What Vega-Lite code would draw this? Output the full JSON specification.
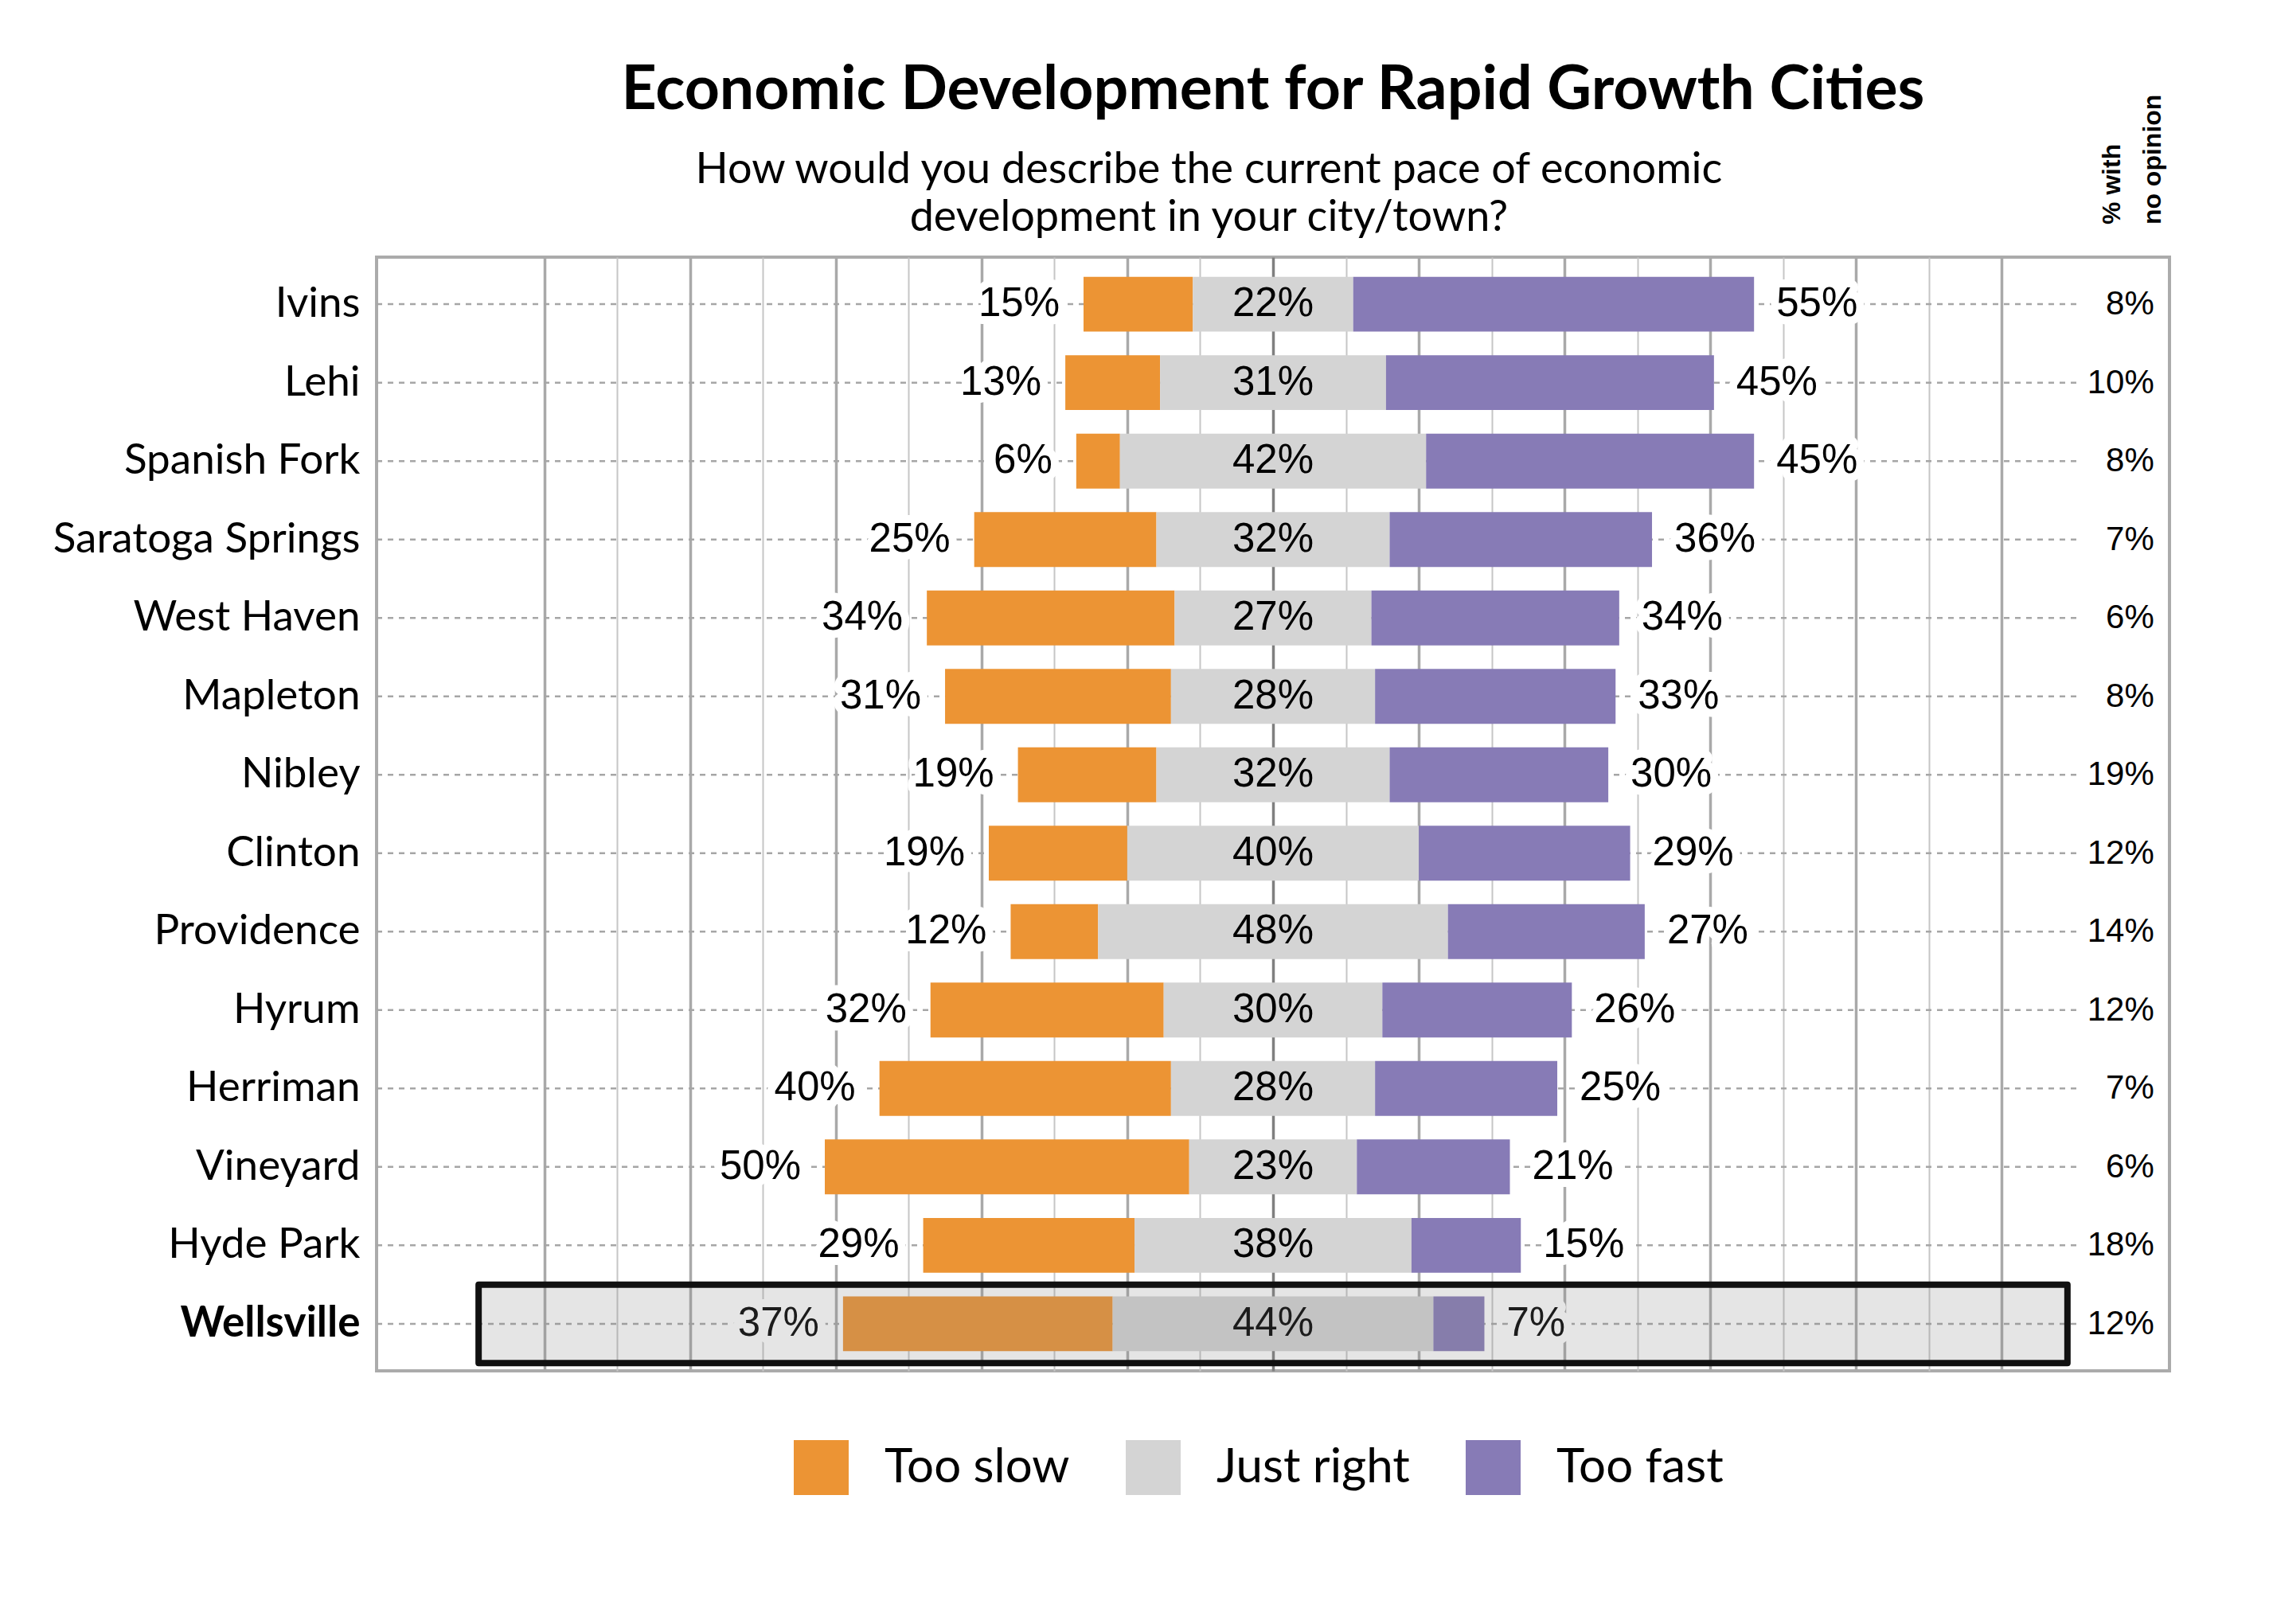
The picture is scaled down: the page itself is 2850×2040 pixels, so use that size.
{
  "$schema": "https://vega.github.io/schema/vega-lite/v6.json",
  "width": 2252,
  "height": 1399,
  "autosize": {"type": "none"},
  "padding": {"left": 473, "top": 323, "right": 125, "bottom": 318},
  "title": {
    "text": "Economic Development for Rapid Growth Cities",
    "font": "Lato",
    "fontSize": 77,
    "fontWeight": "bold",
    "color": "black",
    "anchor": "middle",
    "frame": "group",
    "offset": -34
  },
  "config": {
    "view": {"stroke": "#ababab", "strokeWidth": 4},
    "font": "Lato"
  },
  "data": {
    "values": [
      {"city": "Ivins", "slow": 15, "right": 22, "fast": 55, "none": 8},
      {"city": "Lehi", "slow": 13, "right": 31, "fast": 45, "none": 10},
      {"city": "Spanish Fork", "slow": 6, "right": 42, "fast": 45, "none": 8},
      {"city": "Saratoga Springs", "slow": 25, "right": 32, "fast": 36, "none": 7},
      {"city": "West Haven", "slow": 34, "right": 27, "fast": 34, "none": 6},
      {"city": "Mapleton", "slow": 31, "right": 28, "fast": 33, "none": 8},
      {"city": "Nibley", "slow": 19, "right": 32, "fast": 30, "none": 19},
      {"city": "Clinton", "slow": 19, "right": 40, "fast": 29, "none": 12},
      {"city": "Providence", "slow": 12, "right": 48, "fast": 27, "none": 14},
      {"city": "Hyrum", "slow": 32, "right": 30, "fast": 26, "none": 12},
      {"city": "Herriman", "slow": 40, "right": 28, "fast": 25, "none": 7},
      {"city": "Vineyard", "slow": 50, "right": 23, "fast": 21, "none": 6},
      {"city": "Hyde Park", "slow": 29, "right": 38, "fast": 15, "none": 18},
      {"city": "Wellsville", "slow": 37, "right": 44, "fast": 7, "none": 12}
    ]
  },
  "transform": [
    {"calculate": "-datum.right / 2", "as": "jr_lo"},
    {"calculate": "datum.right / 2", "as": "jr_hi"},
    {"calculate": "-datum.right / 2 - datum.slow", "as": "slow_lo"},
    {"calculate": "datum.right / 2 + datum.fast", "as": "fast_hi"},
    {"calculate": "datum.slow + '%'", "as": "slow_t"},
    {"calculate": "datum.right + '%'", "as": "right_t"},
    {"calculate": "datum.fast + '%'", "as": "fast_t"},
    {"calculate": "datum.none + '%'", "as": "none_t"}
  ],
  "encoding": {
    "y": {
      "field": "city",
      "type": "nominal",
      "sort": null,
      "scale": {"paddingInner": 0, "paddingOuter": 0.1},
      "axis": {
        "title": null,
        "ticks": false,
        "domain": false,
        "grid": false,
        "labelFont": "Lato",
        "labelFontSize": 53,
        "labelLimit": 0,
        "labelColor": "black",
        "labelPadding": 21,
        "labelFontWeight": {
          "condition": {"test": "datum.value === 'Wellsville'", "value": "bold"},
          "value": "normal"
        }
      }
    }
  },
  "layer": [
    {
      "mark": {"type": "rule", "strokeDash": [7, 7], "color": "#a6a6a6", "strokeWidth": 2.5},
      "encoding": {
        "x": {
          "datum": -123,
          "type": "quantitative",
          "scale": {"domain": [-123, 123], "nice": false, "zero": false},
          "axis": {
            "title": null,
            "labels": false,
            "ticks": false,
            "domain": false,
            "grid": true,
            "values": [-100, -90, -80, -70, -60, -50, -40, -30, -20, -10, 0, 10, 20, 30, 40, 50, 60, 70, 80, 90, 100],
            "gridColor": {
              "condition": [
                {"test": "datum.value === 0", "value": "#7f7f7f"},
                {"test": "datum.value % 20 === 0", "value": "#a9a9a9"}
              ],
              "value": "#c6c6c6"
            },
            "gridWidth": {
              "condition": {"test": "datum.value % 20 === 0", "value": 3.5},
              "value": 2
            }
          }
        },
        "x2": {"datum": 110.5}
      }
    },
    {
      "mark": {"type": "bar", "height": {"band": 0.7}},
      "encoding": {
        "x": {"field": "slow_lo", "type": "quantitative"},
        "x2": {"field": "jr_lo"},
        "color": {
          "datum": "Too slow",
          "type": "nominal",
          "scale": {
            "domain": ["Too slow", "Just right", "Too fast"],
            "range": ["#ec9434", "#d4d4d4", "#877bb6"]
          },
          "legend": {
            "title": null,
            "orient": "none",
            "legendX": 524,
            "legendY": 1486,
            "direction": "horizontal",
            "symbolType": "square",
            "symbolSize": 4761,
            "symbolStrokeWidth": 0,
            "labelFont": "Lato",
            "labelFontSize": 60,
            "labelLimit": 0,
            "labelColor": "black",
            "labelOffset": 45,
            "columnPadding": 70,
            "padding": 0
          }
        }
      }
    },
    {
      "mark": {"type": "bar", "height": {"band": 0.7}},
      "encoding": {
        "x": {"field": "jr_lo", "type": "quantitative"},
        "x2": {"field": "jr_hi"},
        "color": {"datum": "Just right", "type": "nominal"}
      }
    },
    {
      "mark": {"type": "bar", "height": {"band": 0.7}},
      "encoding": {
        "x": {"field": "jr_hi", "type": "quantitative"},
        "x2": {"field": "fast_hi"},
        "color": {"datum": "Too fast", "type": "nominal"}
      }
    },
    {
      "mark": {"type": "text", "align": "right", "baseline": "middle", "dx": -30, "font": "Liberation Sans", "fontSize": 51, "fill": "white", "stroke": "white", "strokeWidth": 20, "strokeJoin": "round"},
      "encoding": {"x": {"field": "slow_lo", "type": "quantitative"}, "text": {"field": "slow_t"}}
    },
    {
      "mark": {"type": "text", "align": "right", "baseline": "middle", "dx": -30, "font": "Liberation Sans", "fontSize": 51, "color": "black"},
      "encoding": {"x": {"field": "slow_lo", "type": "quantitative"}, "text": {"field": "slow_t"}}
    },
    {
      "mark": {"type": "text", "align": "center", "baseline": "middle", "font": "Liberation Sans", "fontSize": 51, "color": "black"},
      "encoding": {"x": {"datum": 0, "type": "quantitative"}, "text": {"field": "right_t"}}
    },
    {
      "mark": {"type": "text", "align": "left", "baseline": "middle", "dx": 28, "font": "Liberation Sans", "fontSize": 51, "fill": "white", "stroke": "white", "strokeWidth": 20, "strokeJoin": "round"},
      "encoding": {"x": {"field": "fast_hi", "type": "quantitative"}, "text": {"field": "fast_t"}}
    },
    {
      "mark": {"type": "text", "align": "left", "baseline": "middle", "dx": 28, "font": "Liberation Sans", "fontSize": 51, "color": "black"},
      "encoding": {"x": {"field": "fast_hi", "type": "quantitative"}, "text": {"field": "fast_t"}}
    },
    {
      "mark": {"type": "text", "align": "right", "baseline": "middle", "font": "Liberation Sans", "fontSize": 42, "fill": "white", "stroke": "white", "strokeWidth": 20, "strokeJoin": "round"},
      "encoding": {"x": {"datum": 120.9, "type": "quantitative"}, "text": {"field": "none_t"}}
    },
    {
      "mark": {"type": "text", "align": "right", "baseline": "middle", "font": "Liberation Sans", "fontSize": 42, "color": "black"},
      "encoding": {"x": {"datum": 120.9, "type": "quantitative"}, "text": {"field": "none_t"}}
    },
    {
      "transform": [{"filter": "datum.city === 'Wellsville'"}],
      "mark": {"type": "bar", "fill": "#838383", "fillOpacity": 0.21, "stroke": "#111111", "strokeWidth": 8, "strokeOpacity": 1, "strokeJoin": "round"},
      "encoding": {"x": {"datum": -109, "type": "quantitative"}, "x2": {"datum": 109}}
    },
    {
      "transform": [{"filter": "datum.city === 'Ivins'"}],
      "mark": {
        "type": "text",
        "text": ["How would you describe the current pace of economic", "development in your city/town?"],
        "font": "Lato",
        "fontSize": 54,
        "lineHeight": 60,
        "align": "center",
        "baseline": "alphabetic",
        "dy": -152,
        "color": "black"
      },
      "encoding": {"x": {"datum": -8.8, "type": "quantitative"}}
    },
    {
      "transform": [{"filter": "datum.city === 'Ivins'"}],
      "mark": {
        "type": "text",
        "text": ["% with", "no opinion"],
        "angle": 270,
        "font": "Liberation Sans",
        "fontWeight": "bold",
        "fontSize": 32,
        "lineHeight": 51,
        "align": "left",
        "baseline": "alphabetic",
        "dx": 100,
        "color": "black"
      },
      "encoding": {"x": {"datum": 116.2, "type": "quantitative"}}
    }
  ]
}
